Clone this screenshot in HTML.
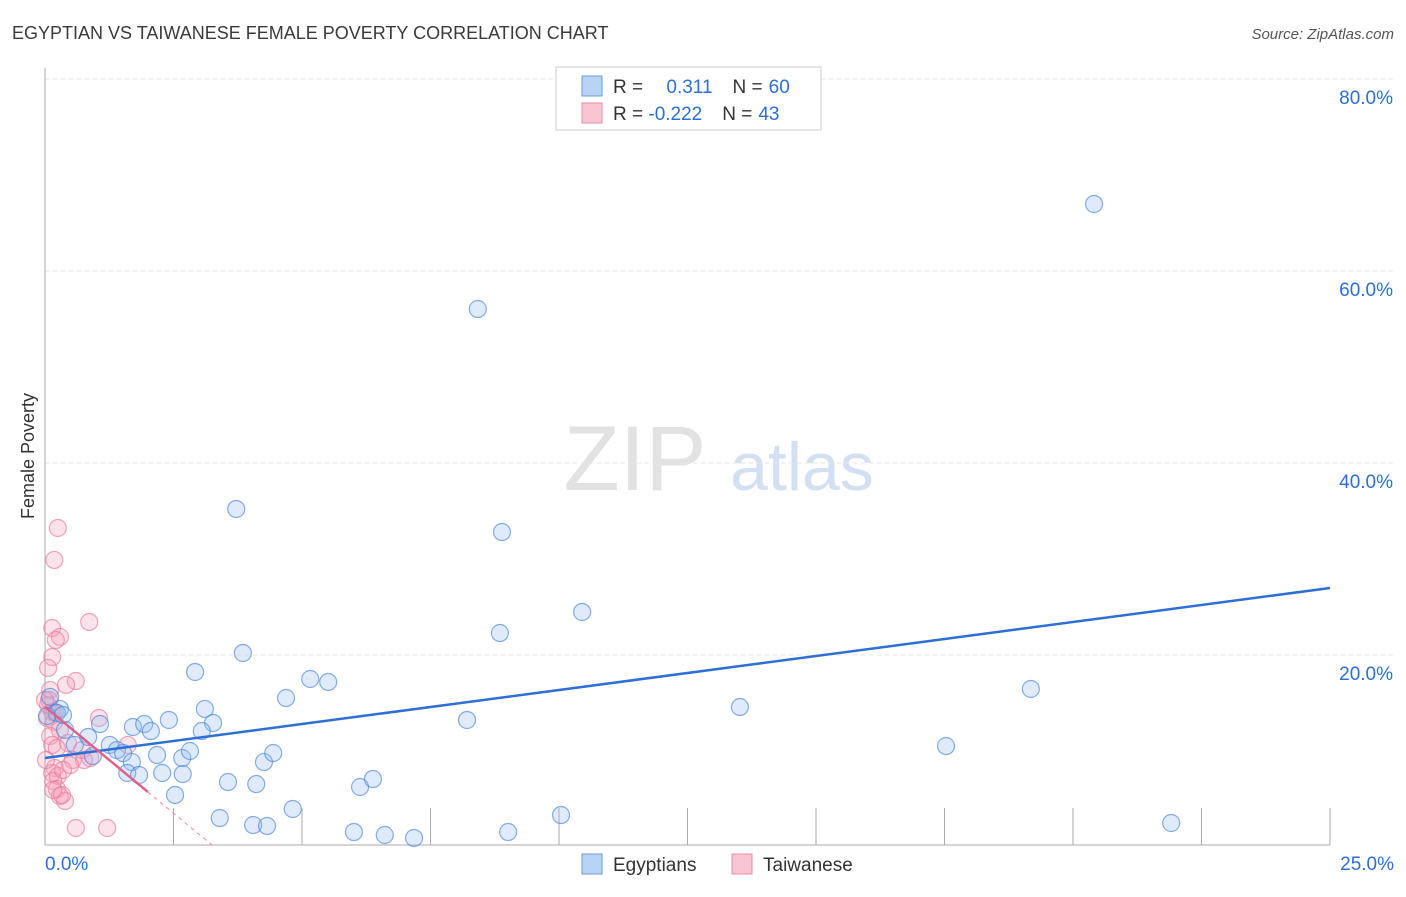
<!DOCTYPE html>
<html><head><meta charset="utf-8"><style>
body{margin:0;background:#fff;font-family:"Liberation Sans",sans-serif;}
svg text{font-family:"Liberation Sans",sans-serif;}
</style></head><body>
<svg width="1406" height="892">
<text x="12" y="39" font-size="18" fill="#3a3a3a">EGYPTIAN VS TAIWANESE FEMALE POVERTY CORRELATION CHART</text>
<text x="1394" y="39" font-size="15" fill="#555" text-anchor="end" font-style="italic">Source: ZipAtlas.com</text>
<text x="34" y="456" font-size="18" fill="#333" text-anchor="middle" transform="rotate(-90 34 456)">Female Poverty</text>
<g><text x="635" y="490" font-size="92" fill="#e2e2e2" text-anchor="middle" font-family="Liberation Serif">ZIP</text><text x="802" y="490" font-size="68" fill="#d3e0f3" text-anchor="middle">atlas</text></g>
<g id="grid"></g><g id="axes"></g><g id="marks"></g>
<g>
<rect x="556" y="67" width="265" height="63" fill="#fff" stroke="#ccc"/>
<rect x="582" y="76" width="20" height="20" fill="#b9d3f5" stroke="#6a9be0"/>
<rect x="582" y="103" width="20" height="20" fill="#f9c5d3" stroke="#e88aa6"/>
<text x="613" y="93" font-size="19" fill="#333">R = <tspan fill="#2d6fd6" dx="18">0.311</tspan><tspan dx="20" fill="#333">N =</tspan><tspan dx="6" fill="#2d6fd6">60</tspan></text>
<text x="613" y="120" font-size="19" fill="#333">R = <tspan fill="#2d6fd6">-0.222</tspan><tspan dx="20" fill="#333">N =</tspan><tspan dx="6" fill="#2d6fd6">43</tspan></text>
</g>
<g>
<rect x="582" y="854" width="20" height="20" fill="#b9d3f5" stroke="#6a9be0"/>
<text x="613" y="871" font-size="19" fill="#333">Egyptians</text>
<rect x="732" y="854" width="20" height="20" fill="#f9c5d3" stroke="#e88aa6"/>
<text x="763" y="871" font-size="19" fill="#333">Taiwanese</text>
</g>
</svg>
<script>
const egX=[20.41,8.42,3.72,8.89,10.45,8.85,3.85,2.92,19.18,5.16,5.51,4.69,3.11,13.52,8.21,3.27,2.41,1.71,1.93,2.06,3.05,17.53,1.07,0.84,1.26,1.40,1.52,2.18,2.67,2.82,4.26,4.44,1.69,1.60,1.83,2.28,2.68,3.56,4.11,6.13,6.38,2.53,4.82,3.40,10.04,4.05,4.32,6.01,6.61,7.18,9.01,21.91,0.29,0.23,0.10,0.04,0.39,0.58,0.93,0.35];
const egY=[66.98,56.04,35.21,32.81,24.48,22.29,20.21,18.23,16.46,17.5,17.19,15.52,14.38,14.58,13.23,12.92,13.23,12.5,12.81,12.08,12.08,10.52,12.81,11.46,10.63,10.1,9.79,9.58,9.27,10.0,8.85,9.79,8.85,7.71,7.5,7.71,7.6,6.77,6.56,6.25,7.08,5.42,3.96,3.02,3.33,2.29,2.19,1.56,1.25,0.94,1.56,2.5,14.38,13.96,15.63,13.65,12.19,10.63,9.48,13.75];
const twX=[0.25,0.18,0.86,0.14,0.29,0.21,0.14,0.06,0.6,0.1,0.08,0.14,0.04,0.18,1.05,0.29,0.1,0.45,1.61,0.72,0.14,0.54,0.76,0.19,0.14,0.25,0.16,0.23,0.29,0.39,0.6,1.21,0.06,0.19,0.33,0.49,0.88,0.35,0,0.41,0.23,0.02,0.16];
const twY=[33.23,29.9,23.44,22.81,21.88,21.56,19.79,18.65,17.29,16.35,15.31,14.06,13.44,13.02,13.44,12.19,11.56,10.83,10.63,10.1,10.63,9.06,9.06,8.23,7.71,7.4,6.88,6.04,5.31,4.79,1.98,1.98,14.79,14.06,5.42,8.54,9.27,8.02,15.31,16.88,10.31,9.06,5.94];
const egTrend=[9.27,26.98];
const twTrend=[14.6,-4.43];
const yTicks=[20,40,60,80];
const NS='http://www.w3.org/2000/svg';
const sx=v=>45+v*51.4, sy=v=>847-v*9.6;
function mk(p,t,a){const e=document.createElementNS(NS,t);for(const k in a)e.setAttribute(k,a[k]);document.getElementById(p).appendChild(e);return e;}
yTicks.forEach(v=>{
 const l=mk('grid','line',{x1:45,x2:1395,y1:sy(v),y2:sy(v),stroke:'#e6e6e6','stroke-dasharray':'4 4'});
 
 
 const t=mk('grid','text',{x:1393,y:sy(v)+25,'font-size':19,fill:'#2d6fd6','text-anchor':'end'});t.textContent=v.toFixed(1)+'%';
 
 
});
mk('axes','line',{x1:45,x2:45,y1:68,y2:845,stroke:'#aaa'});
mk('axes','line',{x1:45,x2:1330,y1:845,y2:845,stroke:'#aaa'});
for(let i=1;i<=10;i++){mk('axes','line',{x1:sx(i*2.5),x2:sx(i*2.5),y1:808,y2:845,stroke:'#aaa'});}
let t0=mk('axes','text',{x:45,y:870,'font-size':19,fill:'#2d6fd6'});t0.textContent='0.0%';


let t1=mk('axes','text',{x:1394,y:870,'font-size':19,fill:'#2d6fd6','text-anchor':'end'});t1.textContent='25.0%';


twX.forEach((x,i)=>{const c=mk('marks','circle',{cx:sx(x),cy:sy(twY[i]),r:8.5,fill:'rgba(246,160,185,0.3)',stroke:'rgba(232,120,155,0.65)','stroke-width':1.2});
 
 });
egX.forEach((x,i)=>{const c=mk('marks','circle',{cx:sx(x),cy:sy(egY[i]),r:8.5,fill:'rgba(150,190,240,0.3)',stroke:'rgba(70,130,220,0.65)','stroke-width':1.2});
 
 });
const bl=mk('marks','line',{x1:sx(0),y1:sy(egTrend[0]),x2:sx(25),y2:sy(egTrend[1]),stroke:'#2d6fd6','stroke-width':2.5});


const xe=2.0, xz=-twTrend[0]/twTrend[1];
const pl=mk('marks','line',{x1:sx(0),y1:sy(twTrend[0]),x2:sx(xe),y2:sy(twTrend[0]+twTrend[1]*xe),stroke:'#e0608a','stroke-width':2.5});


const pd=mk('marks','line',{x1:sx(xe),y1:sy(twTrend[0]+twTrend[1]*xe),x2:sx(xz),y2:sy(0),stroke:'#e88aa6','stroke-width':1,'stroke-dasharray':'4 4'});


</script>
</body></html>
